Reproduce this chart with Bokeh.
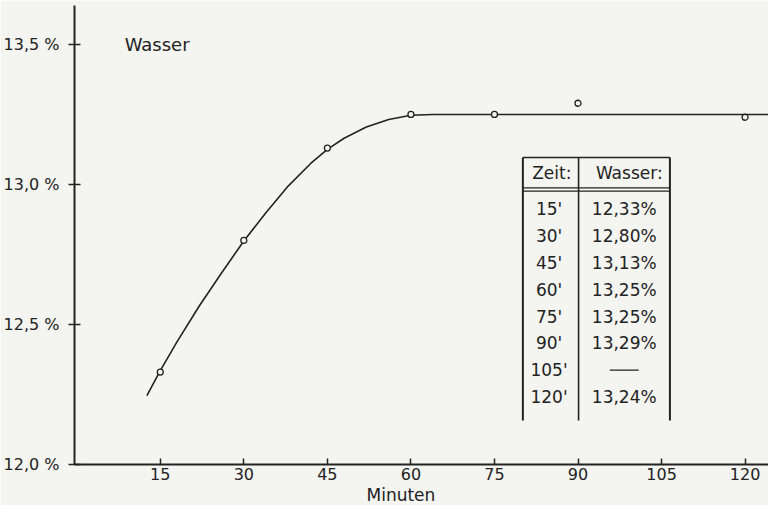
from bokeh.plotting import figure
from bokeh.models import Label, FixedTicker, Title
from bokeh.core.properties import value
from bokeh.embed import file_html
from bokeh.resources import INLINE

# ---- data ----
minutes = [15, 30, 45, 60, 75, 90, 120]
wasser = [12.33, 12.80, 13.13, 13.25, 13.25, 13.29, 13.24]

# smooth curve
curve_x = [12.6, 15, 18, 22, 26, 30, 34, 38, 42, 45, 48, 52, 56, 60, 64, 68, 124.2]
curve_y = [12.246, 12.335, 12.438, 12.566, 12.684, 12.798, 12.90, 12.995, 13.075,
           13.125, 13.165, 13.205, 13.232, 13.247, 13.25, 13.25, 13.25]

x_ticks = [15, 30, 45, 60, 75, 90, 105, 120]
y_ticks = [12.0, 12.5, 13.0, 13.5]
y_tick_labels = ["12,0 %", "12,5 %", "13,0 %", "13,5 %"]

table_times = [15, 30, 45, 60, 75, 90, 105, 120]
table_header = ["Zeit:", "Wasser:"]

# ---- styles ----
FONT = "DejaVu Sans"
INK = "#222222"
PAPER = "#f4f4f1"

p = figure(width=768, height=505, x_range=(-0.4, 124.2), y_range=(12.0, 13.639),
           output_backend="svg", toolbar_location=None,
           min_border_left=74, min_border_right=0, min_border_top=5, min_border_bottom=41)
p.background_fill_color = PAPER
p.border_fill_color = PAPER
p.outline_line_color = None
p.xgrid.visible = False
p.ygrid.visible = False

for ax in (p.xaxis[0], p.yaxis[0]):
    ax.axis_line_color = INK
    ax.axis_line_width = 2
    ax.major_tick_line_color = INK
    ax.major_tick_line_width = 1.5
    ax.minor_tick_line_color = None
    ax.major_label_text_font = FONT
    ax.major_label_text_font_size = "16px"
    ax.major_label_text_color = INK

p.xaxis.ticker = FixedTicker(ticks=x_ticks)
p.xaxis.major_tick_in = 6
p.xaxis.major_tick_out = 0
p.xaxis.major_label_standoff = 3

p.yaxis.ticker = FixedTicker(ticks=y_ticks)
p.yaxis.major_label_overrides = {t: l for t, l in zip(y_ticks, y_tick_labels)}
p.yaxis.major_tick_in = 6
p.yaxis.major_tick_out = 6
p.yaxis.major_label_standoff = 9

# x-axis title, placed left of centre as in the original
p.add_layout(Title(text="Minuten", align="left", offset=292, standoff=0,
                   text_font=FONT, text_font_size="17px", text_font_style="normal",
                   text_color=INK), "below")

# curve and points
p.line(curve_x, curve_y, line_color=INK, line_width=1.6)
p.scatter(minutes, wasser, marker="circle", size=6, fill_color=PAPER,
          line_color=INK, line_width=1.3)

p.add_layout(Label(x=8.6, y=13.5, text="Wasser", text_font=FONT, text_font_size="18px",
                   text_color=INK, text_baseline="middle", text_align="left"))

# ---- table (layout in data coordinates) ----
tx_left, tx_div, tx_right = 80.1, 90.1, 106.5
ty_top, ty_head, ty_bottom = 13.096, 12.982, 12.157
row_y0, row_step = 12.911, 0.0957
col_time_x, col_val_x = 84.8, 98.3

p.segment(x0=[tx_left, tx_left, tx_div, tx_right, tx_left, tx_left],
          y0=[ty_top, ty_top, ty_top, ty_top, ty_head + 0.006, ty_head - 0.006],
          x1=[tx_right, tx_left, tx_div, tx_right, tx_right, tx_right],
          y1=[ty_top, ty_bottom, ty_bottom, ty_bottom, ty_head + 0.006, ty_head - 0.006],
          line_color=INK, line_width=[1.6, 2, 1.6, 2, 1.2, 1.2])

p.text(x=[85.3, col_val_x + 0.9], y=[13.04, 13.04], text=table_header,
       text_font=value(FONT), text_font_size="17px", text_color=INK,
       text_align="center", text_baseline="middle")

val_map = dict(zip(minutes, wasser))
time_txt = [f"{t}'" for t in table_times]
val_txt = [(f"{val_map[t]:.2f}".replace(".", ",") + "%") if t in val_map else "" for t in table_times]
row_y = [row_y0 - i * row_step for i in range(len(table_times))]

p.text(x=[col_time_x] * len(table_times), y=row_y, text=time_txt,
       text_font=value(FONT), text_font_size="17px", text_color=INK,
       text_align="center", text_baseline="middle")
p.text(x=[col_val_x] * len(table_times), y=row_y, text=val_txt,
       text_font=value(FONT), text_font_size="17px", text_color=INK,
       text_align="center", text_baseline="middle")

# dash for missing value (105')
missing_y = [y for t, y in zip(table_times, row_y) if t not in val_map]
p.segment(x0=[col_val_x - 2.6] * len(missing_y), y0=missing_y,
          x1=[col_val_x + 2.6] * len(missing_y), y1=missing_y,
          line_color=INK, line_width=1.3)

open("out.html", "w").write(file_html(p, INLINE))
